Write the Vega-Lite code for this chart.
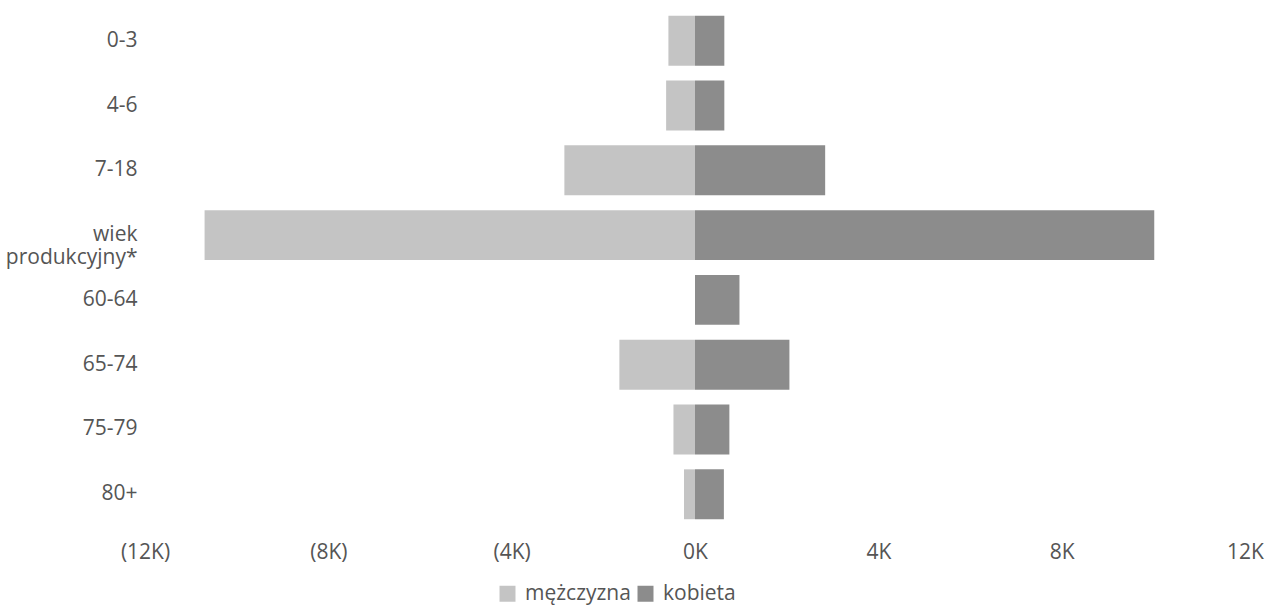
{
  "$schema": "https://vega.github.io/schema/vega-lite/v6.json",
  "autosize": {"type": "none"},
  "width": 1100,
  "height": 519,
  "padding": {"left": 145, "top": 8, "right": 25, "bottom": 82},
  "background": "white",
  "config": {
    "view": {"stroke": null},
    "font": "Open Sans",
    "axis": {"labelFont": "Open Sans", "labelColor": "#555555", "labelFontSize": 21}
  },
  "data": {
    "values": [
      {"grupa": "0-3", "plec": "mężczyzna", "liczba": -580},
      {"grupa": "0-3", "plec": "kobieta", "liczba": 640},
      {"grupa": "4-6", "plec": "mężczyzna", "liczba": -630},
      {"grupa": "4-6", "plec": "kobieta", "liczba": 640},
      {"grupa": "7-18", "plec": "mężczyzna", "liczba": -2850},
      {"grupa": "7-18", "plec": "kobieta", "liczba": 2840},
      {"grupa": "wiek produkcyjny*", "plec": "mężczyzna", "liczba": -10700},
      {"grupa": "wiek produkcyjny*", "plec": "kobieta", "liczba": 10020},
      {"grupa": "60-64", "plec": "mężczyzna", "liczba": 0},
      {"grupa": "60-64", "plec": "kobieta", "liczba": 970},
      {"grupa": "65-74", "plec": "mężczyzna", "liczba": -1650},
      {"grupa": "65-74", "plec": "kobieta", "liczba": 2060},
      {"grupa": "75-79", "plec": "mężczyzna", "liczba": -470},
      {"grupa": "75-79", "plec": "kobieta", "liczba": 750},
      {"grupa": "80+", "plec": "mężczyzna", "liczba": -240},
      {"grupa": "80+", "plec": "kobieta", "liczba": 630}
    ]
  },
  "mark": {"type": "bar"},
  "encoding": {
    "y": {
      "field": "grupa",
      "type": "nominal",
      "sort": ["0-3", "4-6", "7-18", "wiek produkcyjny*", "60-64", "65-74", "75-79", "80+"],
      "scale": {"paddingInner": 0.23, "paddingOuter": 0.12},
      "axis": {
        "title": null,
        "domain": false,
        "ticks": false,
        "labelPadding": 8,
        "labelLineHeight": 23,
        "labelExpr": "datum.label == 'wiek produkcyjny*' ? ['wiek', 'produkcyjny*'] : datum.label"
      }
    },
    "x": {
      "field": "liczba",
      "type": "quantitative",
      "stack": null,
      "scale": {"domain": [-12000, 12000], "nice": false},
      "axis": {
        "title": null,
        "domain": false,
        "ticks": false,
        "grid": false,
        "labelFlush": false,
        "values": [-12000, -8000, -4000, 0, 4000, 8000, 12000],
        "labelPadding": 14,
        "labelExpr": "datum.value < 0 ? '(' + abs(datum.value) / 1000 + 'K)' : datum.value / 1000 + 'K'"
      }
    },
    "color": {
      "field": "plec",
      "type": "nominal",
      "scale": {"domain": ["mężczyzna", "kobieta"], "range": ["#c4c4c4", "#8c8c8c"]},
      "legend": {
        "title": null,
        "orient": "none",
        "direction": "horizontal",
        "legendX": 352,
        "legendY": 575,
        "symbolType": "square",
        "symbolSize": 256,
        "symbolStrokeWidth": 0,
        "labelFontSize": 21,
        "labelColor": "#555555",
        "labelFont": "Open Sans",
        "labelOffset": 7,
        "columnPadding": 4
      }
    }
  }
}
